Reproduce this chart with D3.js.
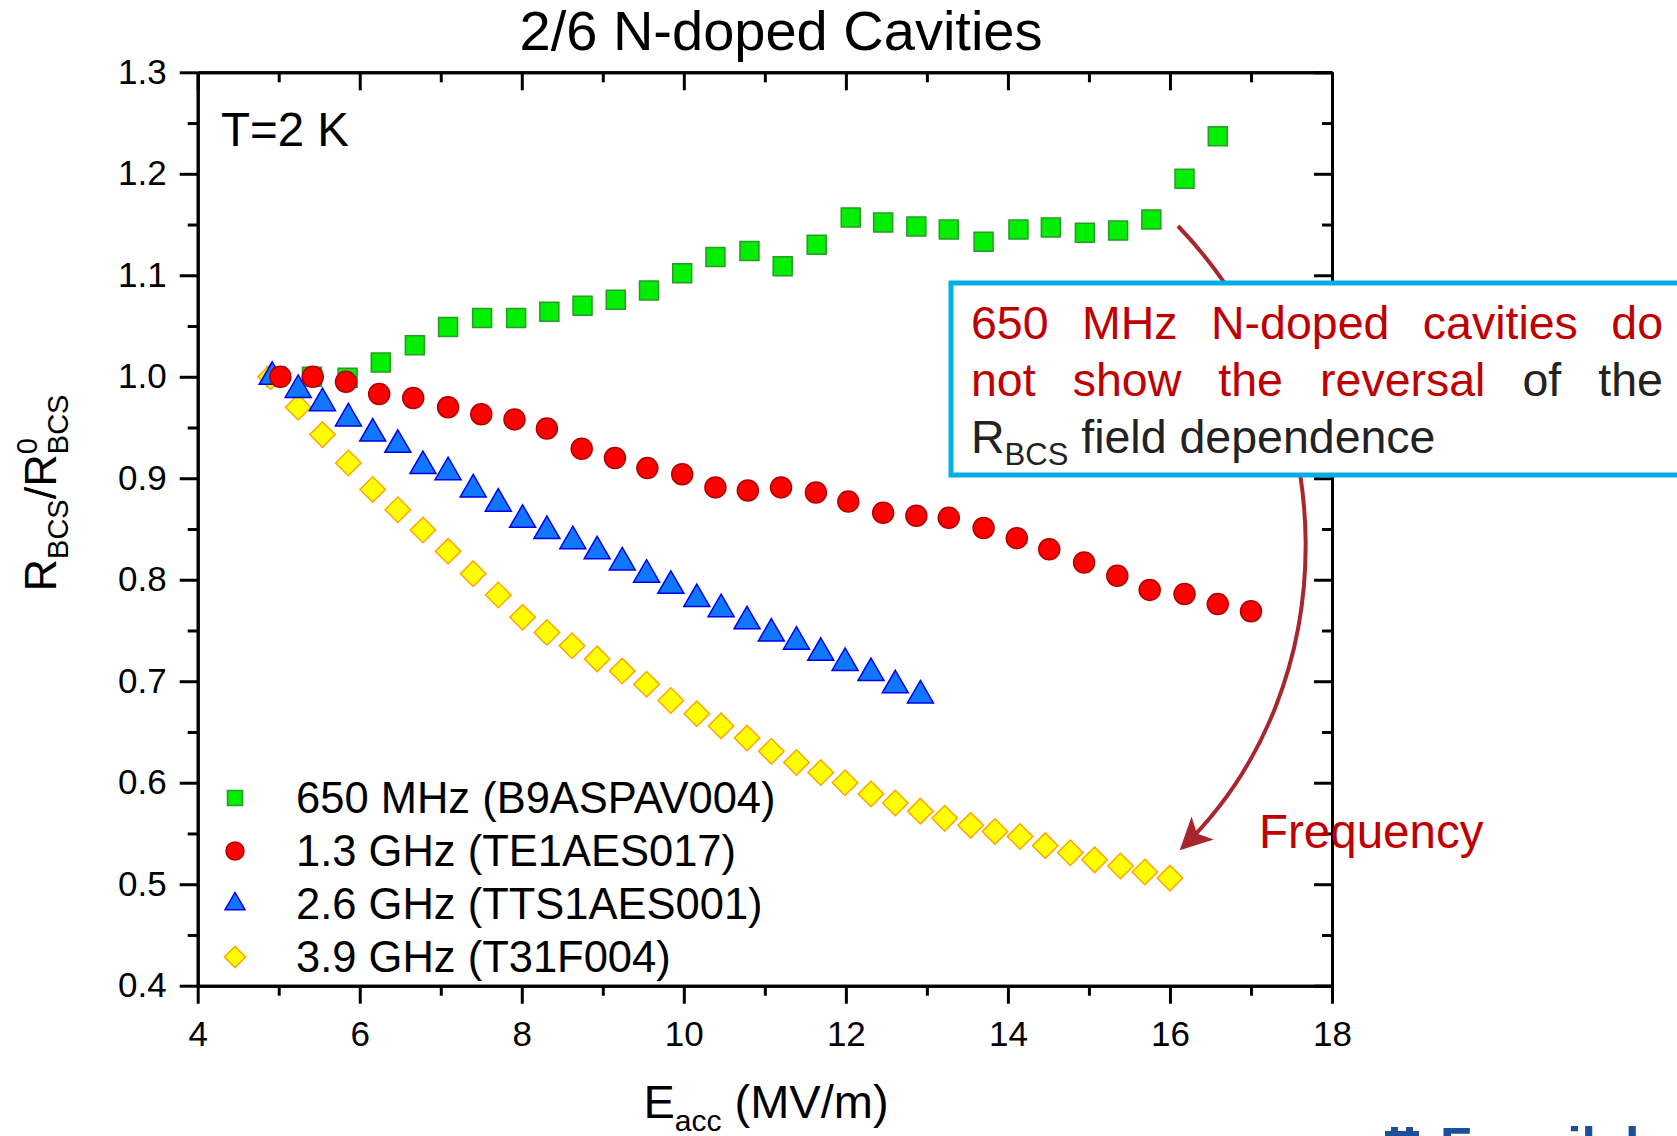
<!DOCTYPE html>
<html><head><meta charset="utf-8">
<script src="https://cdn.jsdelivr.net/npm/d3@7"></script>
<style>
html,body{margin:0;padding:0;background:#fff;}
svg{display:block;font-family:"Liberation Sans",Arial,sans-serif;}
</style></head>
<body>
<svg id="chart" width="1677" height="1136"></svg>
<script>
// ---------- data ----------
const xTickValues = [4, 6, 8, 10, 12, 14, 16, 18];
const xMinorTicks = [5, 7, 9, 11, 13, 15, 17];
const yTickValues = [0.4, 0.5, 0.6, 0.7, 0.8, 0.9, 1.0, 1.1, 1.2, 1.3];
const yMinorTicks = [0.45, 0.55, 0.65, 0.75, 0.85, 0.95, 1.05, 1.15, 1.25];

const seriesNames = ["650 MHz (B9ASPAV004)", "1.3 GHz (TE1AES017)", "2.6 GHz (TTS1AES001)", "3.9 GHz (T31F004)"];

const e650 = [4.97, 5.41, 5.85, 6.26, 6.68, 7.09, 7.51, 7.93, 8.34, 8.75, 9.16, 9.57, 9.98, 10.39, 10.81, 11.22, 11.64, 12.06, 12.46, 12.87, 13.27, 13.70, 14.13, 14.53, 14.95, 15.36, 15.77, 16.18, 16.59];
const r650 = [1.000, 1.000, 0.999, 1.014, 1.031, 1.049, 1.058, 1.058, 1.064, 1.070, 1.076, 1.085, 1.102, 1.118, 1.124, 1.109, 1.130, 1.157, 1.152, 1.148, 1.145, 1.133, 1.145, 1.147, 1.142, 1.144, 1.155, 1.195, 1.237];

const e13 = [5.02, 5.42, 5.83, 6.24, 6.66, 7.09, 7.50, 7.91, 8.31, 8.74, 9.15, 9.55, 9.98, 10.39, 10.79, 11.20, 11.63, 12.03, 12.46, 12.87, 13.27, 13.70, 14.11, 14.51, 14.94, 15.35, 15.75, 16.18, 16.59, 17.00];
const r13 = [1.000, 1.000, 0.995, 0.983, 0.979, 0.970, 0.963, 0.958, 0.949, 0.929, 0.920, 0.910, 0.904, 0.891, 0.888, 0.891, 0.886, 0.877, 0.866, 0.863, 0.861, 0.851, 0.841, 0.830, 0.817, 0.804, 0.790, 0.786, 0.776, 0.769];

const e26 = [4.92, 5.24, 5.54, 5.86, 6.16, 6.47, 6.78, 7.09, 7.40, 7.71, 8.01, 8.31, 8.63, 8.93, 9.24, 9.54, 9.84, 10.16, 10.46, 10.78, 11.08, 11.39, 11.69, 11.99, 12.31, 12.61, 12.92];
const r26 = [1.000, 0.987, 0.974, 0.959, 0.944, 0.933, 0.912, 0.906, 0.889, 0.875, 0.859, 0.848, 0.838, 0.828, 0.817, 0.805, 0.794, 0.781, 0.771, 0.759, 0.747, 0.739, 0.728, 0.718, 0.708, 0.696, 0.686];

const e39 = [4.90, 5.24, 5.54, 5.86, 6.16, 6.47, 6.78, 7.09, 7.40, 7.71, 8.01, 8.31, 8.62, 8.93, 9.24, 9.54, 9.84, 10.16, 10.46, 10.78, 11.08, 11.39, 11.69, 11.99, 12.31, 12.61, 12.92, 13.22, 13.54, 13.84, 14.15, 14.46, 14.77, 15.07, 15.39, 15.69, 16.00];
const r39 = [1.000, 0.970, 0.943, 0.915, 0.889, 0.869, 0.849, 0.828, 0.806, 0.785, 0.763, 0.748, 0.735, 0.722, 0.710, 0.697, 0.681, 0.668, 0.656, 0.644, 0.631, 0.620, 0.610, 0.600, 0.589, 0.580, 0.572, 0.565, 0.558, 0.552, 0.547, 0.538, 0.531, 0.524, 0.518, 0.512, 0.506];

// ---------- layout ----------
const svg = d3.select("#chart");
const pLeft = 197.7, pRight = 1332, pTop = 72.3, pBottom = 985.7;
const x = d3.scaleLinear().domain([4, 18]).range([pLeft, pRight]);
const y = d3.scaleLinear().domain([0.4, 1.3]).range([pBottom, pTop]);

const styles = [
  {fill: "#00ee00", stroke: "#2a9a2a", shape: "square", size: 19},
  {fill: "#ff0000", stroke: "#b00000", shape: "circle", size: 21},
  {fill: "#1177ff", stroke: "#0000ee", shape: "triangle", size: 26},
  {fill: "#ffff00", stroke: "#ffa500", shape: "diamond", size: 18}
];
function symPath(shape, s) {
  if (shape === "square") return d3.symbol(d3.symbolSquare, s * s)();
  if (shape === "circle") return d3.symbol(d3.symbolCircle, Math.PI * (s / 2) * (s / 2))();
  if (shape === "triangle") return d3.symbol(d3.symbolTriangle, Math.sqrt(3) / 4 * s * s)();
  return d3.symbol(d3.symbolSquare, s * s)();
}
function symTransform(shape, px, py) {
  return shape === "diamond" ? `translate(${px},${py}) rotate(45)` : `translate(${px},${py})`;
}

// ---------- axes ----------
const axW = 3;
function styleAxis(g, fs) {
  g.selectAll("path.domain").attr("stroke", "#000").attr("stroke-width", axW);
  g.selectAll(".tick line").attr("stroke", "#000").attr("stroke-width", axW);
  g.selectAll(".tick text").attr("fill", "#000").style("font-size", fs + "px")
    .style("font-family", "'Liberation Sans', Arial, sans-serif");
}
// minor ticks
svg.append("g").attr("transform", `translate(0,${pBottom})`)
  .call(d3.axisBottom(x).tickValues(xMinorTicks).tickSize(10).tickSizeOuter(0).tickFormat(""))
  .call(g => styleAxis(g, 10));
svg.append("g").attr("transform", `translate(0,${pTop})`)
  .call(d3.axisTop(x).tickValues(xMinorTicks).tickSize(-10).tickSizeOuter(0).tickFormat(""))
  .call(g => styleAxis(g, 10));
svg.append("g").attr("transform", `translate(${pLeft},0)`)
  .call(d3.axisLeft(y).tickValues(yMinorTicks).tickSize(10).tickSizeOuter(0).tickFormat(""))
  .call(g => styleAxis(g, 10));
svg.append("g").attr("transform", `translate(${pRight},0)`)
  .call(d3.axisRight(y).tickValues(yMinorTicks).tickSize(-10).tickSizeOuter(0).tickFormat(""))
  .call(g => styleAxis(g, 10));
// major ticks
svg.append("g").attr("transform", `translate(0,${pBottom})`)
  .call(d3.axisBottom(x).tickValues(xTickValues).tickSize(18).tickSizeOuter(0).tickPadding(17).tickFormat(d3.format("d")))
  .call(g => styleAxis(g, 35));
svg.append("g").attr("transform", `translate(0,${pTop})`)
  .call(d3.axisTop(x).tickValues(xTickValues).tickSize(-18).tickSizeOuter(0).tickFormat(""))
  .call(g => styleAxis(g, 10));
svg.append("g").attr("transform", `translate(${pLeft},0)`)
  .call(d3.axisLeft(y).tickValues(yTickValues).tickSize(18).tickSizeOuter(0).tickPadding(13).tickFormat(d3.format(".1f")))
  .call(g => styleAxis(g, 35));
svg.append("g").attr("transform", `translate(${pRight},0)`)
  .call(d3.axisRight(y).tickValues(yTickValues).tickSize(-18).tickSizeOuter(0).tickFormat(""))
  .call(g => styleAxis(g, 10));

// ---------- arrow (behind box) ----------
const arrowColor = "#a8262e";
const defs = svg.append("defs");
defs.append("marker").attr("id", "ah").attr("viewBox", "0 0 10 10").attr("refX", 9).attr("refY", 5)
  .attr("markerWidth", 8).attr("markerHeight", 8).attr("markerUnits", "strokeWidth").attr("orient", "auto")
  .append("path").attr("d", "M0,0 L10,5 L0,10 L2.5,5 Z").attr("fill", arrowColor);
svg.append("path").attr("d", "M1178,226 C1345,400 1350,685 1182,848")
  .attr("fill", "none").attr("stroke", arrowColor).attr("stroke-width", 4).attr("marker-end", "url(#ah)");

// ---------- data points ----------
const allSeries = [
  {xs: e650, ys: r650, st: styles[0]},
  {xs: e39, ys: r39, st: styles[3]},
  {xs: e26, ys: r26, st: styles[2]},
  {xs: e13, ys: r13, st: styles[1]}
];
allSeries.forEach(s => {
  svg.append("g").selectAll("path").data(s.xs.map((d, i) => [d, s.ys[i]])).join("path")
    .attr("d", symPath(s.st.shape, s.st.size))
    .attr("transform", d => symTransform(s.st.shape, x(d[0]), y(d[1])))
    .attr("fill", s.st.fill).attr("stroke", s.st.stroke).attr("stroke-width", 1.5);
});

// ---------- legend ----------
const legendSizes = [15, 18, 20, 15];
seriesNames.forEach((name, i) => {
  const cy = 798 + i * 53;
  const st = styles[i];
  svg.append("path").attr("d", symPath(st.shape, legendSizes[i]))
    .attr("transform", symTransform(st.shape, 235, cy))
    .attr("fill", st.fill).attr("stroke", st.stroke).attr("stroke-width", 1.5);
  svg.append("text").attr("x", 296).attr("y", cy + 15).attr("font-size", 43.5).attr("fill", "#000").text(name);
});

// ---------- texts ----------
svg.append("text").attr("x", 781).attr("y", 50).attr("text-anchor", "middle").attr("font-size", 56)
  .attr("fill", "#000").text("2/6 N-doped Cavities");
svg.append("text").attr("x", 221).attr("y", 146).attr("font-size", 47.5).attr("fill", "#000").text("T=2 K");

// x label
const xl = svg.append("text").attr("x", 766).attr("y", 1118).attr("text-anchor", "middle").attr("font-size", 47).attr("fill", "#000");
xl.append("tspan").text("E");
xl.append("tspan").attr("font-size", 30).attr("dy", 13).text("acc");
xl.append("tspan").attr("dy", -13).text(" (MV/m)");

// y label
const yl = svg.append("text").attr("transform", "translate(56,493) rotate(-90)").attr("text-anchor", "middle")
  .attr("font-size", 45).attr("fill", "#000");
yl.append("tspan").text("R");
yl.append("tspan").attr("font-size", 29).attr("dy", 12).text("BCS");
yl.append("tspan").attr("dy", -12).text("/R");
yl.append("tspan").attr("font-size", 29).attr("dy", -19).text("0");
yl.append("tspan").attr("font-size", 29).attr("dx", -16).attr("dy", 31).text("BCS");

// annotation box
svg.append("rect").attr("x", 951).attr("y", 283).attr("width", 760).attr("height", 192)
  .attr("fill", "#fff").attr("stroke", "#00b0e0").attr("stroke-width", 5);
const red = "#c00000", dark = "#222222";
const noteLines = [
  [["650", red], ["MHz", red], ["N-doped", red], ["cavities", red], ["do", red]],
  [["not", red], ["show", red], ["the", red], ["reversal", red], ["of", dark], ["the", dark]]
];
const noteFont = 46.5, noteLeft = 971, noteRight = 1663;
noteLines.forEach((words, li) => {
  const by = 339 + li * 57;
  const els = words.map(w => svg.append("text").attr("y", by).attr("font-size", noteFont).attr("fill", w[1]).text(w[0]));
  const widths = els.map(e => e.node().getComputedTextLength());
  const gap = (noteRight - noteLeft - d3.sum(widths)) / (words.length - 1);
  let cx = noteLeft;
  els.forEach((e, i) => { e.attr("x", cx); cx += widths[i] + gap; });
});
const l3 = svg.append("text").attr("x", noteLeft).attr("y", 339 + 2 * 57).attr("font-size", noteFont).attr("fill", dark);
l3.append("tspan").text("R");
l3.append("tspan").attr("font-size", 31).attr("dy", 12).text("BCS");
l3.append("tspan").attr("dy", -12).text(" field dependence");

svg.append("text").attr("x", 1259).attr("y", 848).attr("font-size", 47.5).attr("fill", red).text("Frequency");

// partial logo at bottom-right edge
const logoBlue = "#1f4e9a";
svg.append("rect").attr("x", 1385).attr("y", 1131).attr("width", 34).attr("height", 12).attr("fill", logoBlue);
svg.append("rect").attr("x", 1391).attr("y", 1127).attr("width", 7).attr("height", 6).attr("fill", logoBlue);
svg.append("rect").attr("x", 1406).attr("y", 1127).attr("width", 7).attr("height", 6).attr("fill", logoBlue);
svg.append("text").attr("x", 1440).attr("y", 1164).attr("font-size", 52).attr("font-weight", "bold").attr("fill", logoBlue).text("Fermilab");
</script>
</body></html>
